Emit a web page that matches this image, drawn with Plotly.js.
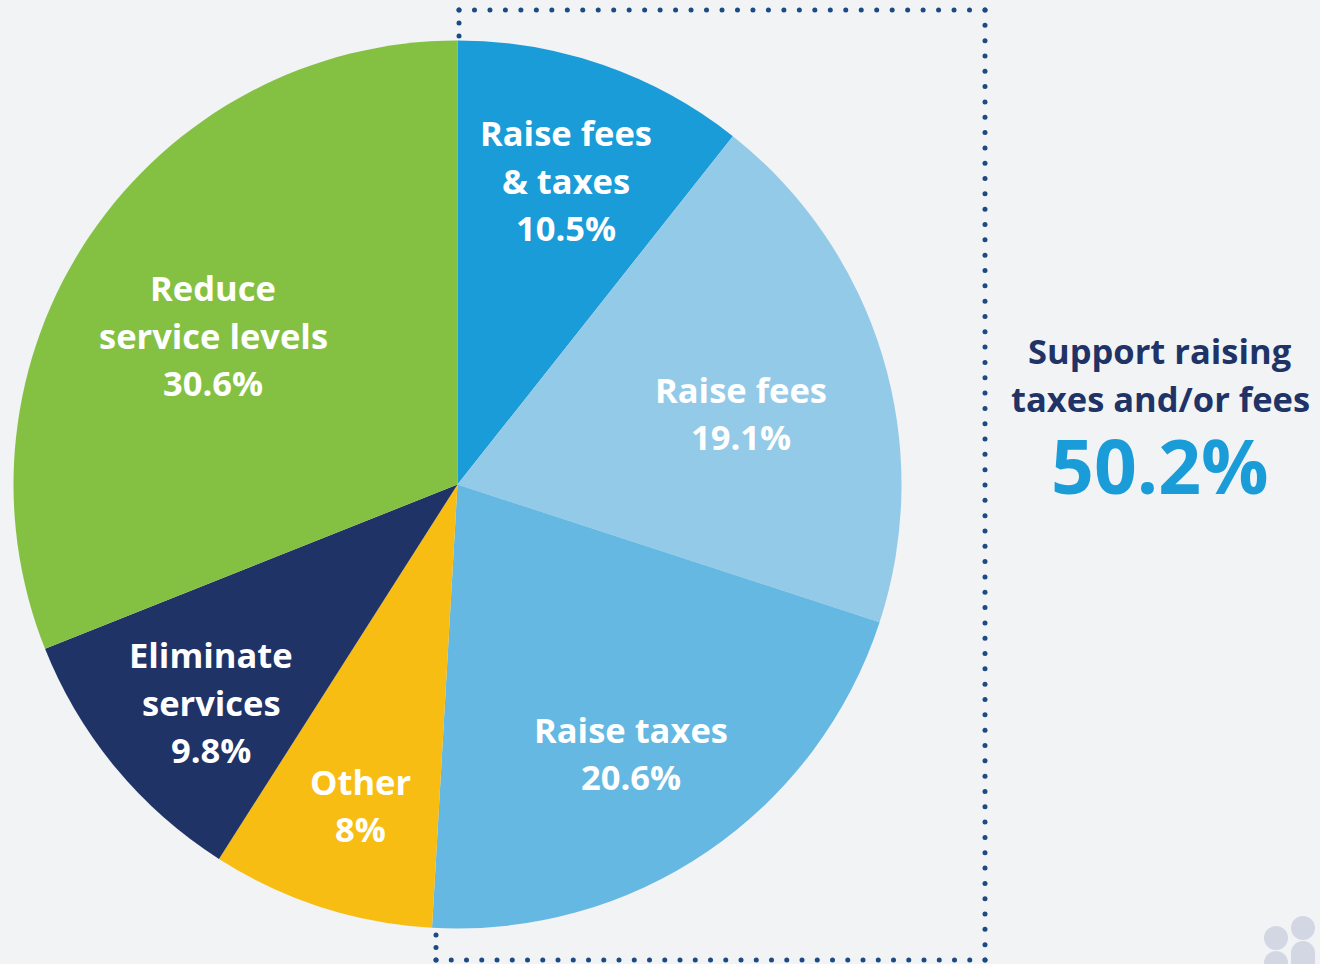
<!DOCTYPE html>
<html><head><meta charset="utf-8">
<script src="https://cdn.plot.ly/plotly-3.0.1.min.js"></script>
<style>html,body{margin:0;padding:0;background:#f1f3f5}</style></head>
<body><div id="chart" style="width:1320px;height:964px"></div>
<script>
const categories = ["Raise fees<br>& taxes","Raise fees","Raise taxes","Other","Eliminate<br>services","Reduce<br>service levels"];
const values = [10.5,19.1,20.6,8,9.8,30.6];
const valueLabels = ["10.5%","19.1%","20.6%","8%","9.8%","30.6%"];
const colors = ["#1a9cd8","#93cae8","#64b8e1","#f7bd13","#1f3366","#84c142"];
const sideLines = ["Support raising","taxes and/or fees"];
const sideValue = "50.2%";
const W=1320,H=964;
const cx=457.5, cy=484.5, r=444;
const F='"Open Sans", "Noto Sans", sans-serif';
function txt(t,x,y,size,color){return {text:'<b>'+t+'</b>',xref:'paper',yref:'paper',x:x/W,y:1-y/H,xanchor:'center',yanchor:'middle',showarrow:false,font:{family:F,size:size,color:color}};}
const labelPos=[[566,180],[741,413],[631,753],[360,805],[211,702],[213,335]];
const anns=[];
categories.forEach((c,i)=>{
  const parts=(c+'<br>'+valueLabels[i]).split('<br>');
  const n=parts.length;
  parts.forEach((p,j)=>anns.push(txt(p.replace('&','&amp;'),labelPos[i][0],labelPos[i][1]+(j-(n-1)/2)*47.5,34.5,'#ffffff')));
});
anns.push(txt(sideLines[0],1160,350,34.5,'#1f3366'));
anns.push(txt(sideLines[1],1160,398,34.5,'#1f3366'));
anns.push(txt(sideValue,1160,465,75,'#1a9cd8'));

// dotted bracket around the "support raising" slices
const dotX=[],dotY=[];
function run(x0,y0,x1,y1){
  const len=Math.hypot(x1-x0,y1-y0), n=Math.round(len/15.3);
  for(let i=0;i<=n;i++){dotX.push(x0+(x1-x0)*i/n);dotY.push(y0+(y1-y0)*i/n);}
}
run(459,10,985,10);run(985,10,985,960);run(985,960,436,960);run(436,935,436,960);run(459,10,459,36);

const fill='#d3d7e3';
const px=x=>x/W, py=y=>1-y/H;
function circle(x,y,rad){return {type:'circle',xref:'paper',yref:'paper',x0:px(x-rad),x1:px(x+rad),y0:py(y+rad),y1:py(y-rad),fillcolor:fill,line:{width:0}};}
function body(x,y,w){const rr=w/2;
  const pts=[];
  return {type:'path',xref:'x',yref:'y',
    path:`M ${x} 980 L ${x} ${y+rr} C ${x} ${y+rr*0.45} ${x+rr*0.45} ${y} ${x+rr} ${y} C ${x+rr*1.55} ${y} ${x+w} ${y+rr*0.45} ${x+w} ${y+rr} L ${x+w} 980 Z`,
    fillcolor:fill,line:{width:0}};}

Plotly.newPlot('chart',[
 {type:'scatter',mode:'markers',x:dotX,y:dotY,xaxis:'x',yaxis:'y',marker:{color:'#1c4a85',size:5,line:{width:0}},hoverinfo:'skip',showlegend:false},
 {type:'pie',values:values,labels:categories,sort:false,direction:'clockwise',rotation:0,
 marker:{colors:colors,line:{width:0}},textinfo:'none',hoverinfo:'label+percent',showlegend:false,
 domain:{x:[(cx-r)/W,(cx+r)/W],y:[1-(cy+r)/H,1-(cy-r)/H]}}],
 {width:W,height:H,margin:{l:0,r:0,t:0,b:0},paper_bgcolor:'#f1f3f5',plot_bgcolor:'rgba(0,0,0,0)',showlegend:false,
  xaxis:{range:[0,W],visible:false,fixedrange:true},yaxis:{range:[H,0],visible:false,fixedrange:true},
  annotations:anns,
  shapes:[circle(1276,938,12),circle(1303,928,12),circle(1276,963,12),body(1291,941,24)]
 },{displayModeBar:false});
</script></body></html>
